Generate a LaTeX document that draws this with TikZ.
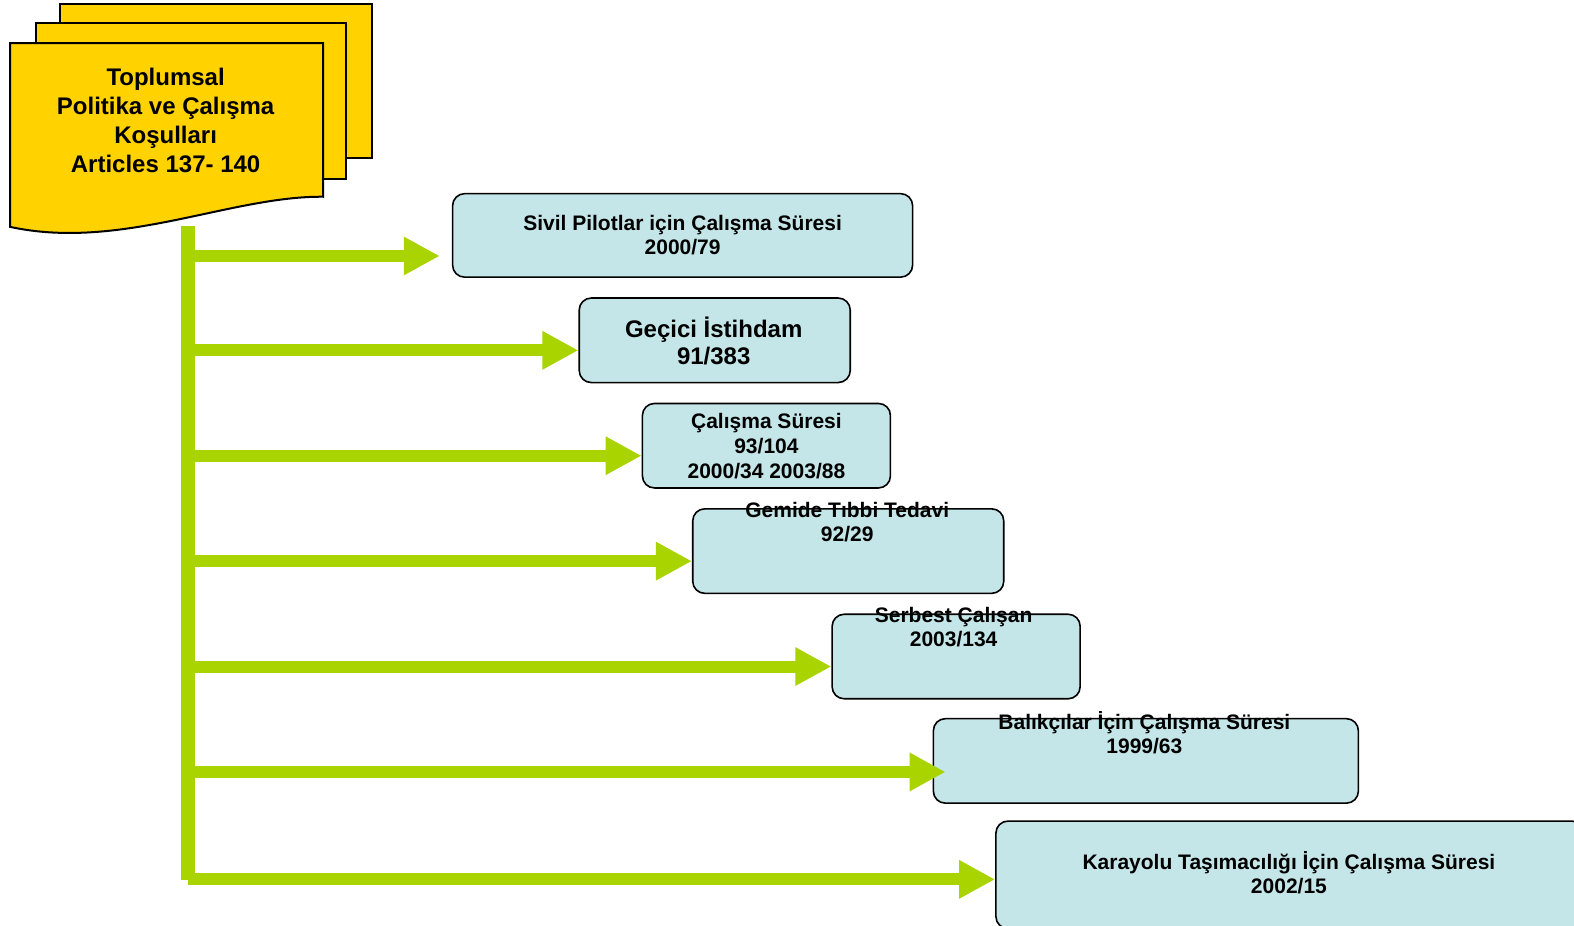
\documentclass[tikz,border=0pt]{standalone}
\usepackage{fontspec}
\setmainfont{Liberation Sans}
\usetikzlibrary{arrows.meta,calc}
\definecolor{docyellow}{HTML}{FFD200}
\definecolor{barGreen}{HTML}{AAD400}
\definecolor{boxblue}{HTML}{C5E6E8}
\tikzset{
  sheet/.style={draw=black,line width=2pt,fill=docyellow},
  itembox/.style={draw=black,line width=1.6pt,fill=boxblue,rounded corners=12pt,inner sep=0pt},
  boxtext/.style={align=center,font=\bfseries\fontsize{21}{24}\selectfont,inner sep=0pt},
  greenarrow/.style={draw=barGreen,line width=12pt,-{Triangle[length=36pt,width=36pt]}},
}
\begin{document}
\begin{tikzpicture}[x=1.00383pt,y=-1.00383pt]
\useasboundingbox (0,0) rectangle (1568,922);
\clip (0,0) rectangle (1568,922);
% document stack
\path[sheet] (60,4) rectangle (371,157);
\path[sheet] (36,23) rectangle (345,178);
\path[sheet] (10,43) -- (322,43) -- (322,196) .. controls (230,195) and (120,250) .. (10,226) -- cycle;
\node[align=center,font=\bfseries\fontsize{24}{29}\selectfont,inner sep=0pt] (doc) at (165,120)
  {Toplumsal\\Politika ve Çalışma\\Koşulları\\Articles 137- 140};
% boxes
\node[itembox,minimum width=460pt,minimum height=83.5pt] (b1) at (680,234.5) {};
\node[boxtext] (b1t) at (680,234.5) {Sivil Pilotlar için Çalışma Süresi\\2000/79};
\node[itembox,minimum width=271pt,minimum height=84.5pt] (b2) at (712,339) {};
\node[boxtext,font=\bfseries\fontsize{24}{27}\selectfont] (b2t) at (711,339.5) {Geçici İstihdam\\91/383};
\node[itembox,minimum width=248pt,minimum height=84.5pt] (b3) at (763.5,444) {};
\node[boxtext,font=\bfseries\fontsize{21}{25}\selectfont] (b3t) at (763.5,444) {Çalışma Süresi\\93/104\\2000/34 2003/88};
\node[itembox,minimum width=311pt,minimum height=84.5pt] (b4) at (845,549) {};
\node[boxtext] (b4t) at (844,520) {Gemide Tıbbi Tedavi\\92/29};
\node[itembox,minimum width=248pt,minimum height=84.5pt] (b5) at (952.5,654) {};
\node[boxtext] (b5t) at (950,625) {Serbest Çalışan\\2003/134};
\node[itembox,minimum width=425pt,minimum height=84.5pt] (b6) at (1141.5,758) {};
\node[boxtext] (b6t) at (1140,730) {Balıkçılar İçin Çalışma Süresi\\1999/63};
\node[itembox,minimum width=588pt,minimum height=107.5pt] (b7) at (1285,871.5) {};
\node[boxtext] (b7t) at (1284,869) {Karayolu Taşımacılığı İçin Çalışma Süresi\\2002/15};
% trunk
\coordinate (trunkTop) at (187,225);
\coordinate (trunkBot) at (187,877);
\draw[barGreen,line width=14pt] (trunkTop) -- (trunkBot);
% arrow endpoints
\coordinate (e1) at ($(b1.west |- 0,255)+(-12,0)$);
\coordinate (e2) at (b2.west |- 0,349);
\coordinate (e3) at (b3.west |- 0,454);
\coordinate (e4) at (b4.west |- 0,559);
\coordinate (e5) at (b5.west |- 0,664);
\coordinate (e6) at ($(b6.west |- 0,769)+(13,0)$);
\coordinate (e7) at (b7.west |- 0,876);
\foreach \i in {1,...,7} {
  \draw[greenarrow] (trunkTop |- e\i) -- (e\i);
}
\end{tikzpicture}
\end{document}
